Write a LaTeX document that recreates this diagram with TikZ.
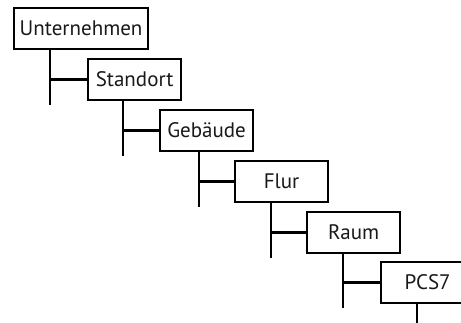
\documentclass[tikz,border=0pt]{standalone}
\usepackage{fontspec}
\setmainfont{PT Sans}
\begin{document}
\begin{tikzpicture}[x=1pt,y=-1pt,
  box/.style={draw=black, line width=2.2pt, fill=white, anchor=north west,
    minimum width=93pt, minimum height=41pt, inner sep=0pt,
    font=\fontsize{21}{24}\selectfont, text=black!90},
  conn/.style={draw=black, line width=2.2pt}]
\useasboundingbox (0,0) rectangle (461,323);
\clip (0,0) rectangle (461,323);
\node[box, minimum width=134pt] (u) at (13,7) {Unternehmen};
\node[box] (s) at (87,58) {Standort};
\node[box] (g) at (159,109) {Gebäude};
\node[box] (f) at (234,160) {Flur};
\node[box] (r) at (306,211) {Raum};
\node[box] (p) at (380,261) {PCS7};
% connectors
\draw[conn] (u.south west) ++(37,0) coordinate (ua) -- (ua |- s.west) coordinate (ub) -- (s.west);
\draw[conn] (ub) -- ++(0,25);
\draw[conn] (s.south west) ++(36,0) coordinate (sa) -- (sa |- g.west) coordinate (sb) -- (g.west);
\draw[conn] (sb) -- ++(0,25);
\draw[conn] (g.south west) ++(40,0) coordinate (ga) -- (ga |- f.west) coordinate (gb) -- (f.west);
\draw[conn] (gb) -- ++(0,25);
\draw[conn] (f.south west) ++(37,0) coordinate (fa) -- (fa |- r.west) coordinate (fb) -- (r.west);
\draw[conn] (fb) -- ++(0,25);
\draw[conn] (r.south west) ++(37,0) coordinate (ra) -- (ra |- p.west) coordinate (rb) -- (p.west);
\draw[conn] (rb) -- ++(0,25);
\draw[conn] (p.south west) ++(37,0) coordinate (pa) -- ++(0,25);
\end{tikzpicture}
\end{document}
